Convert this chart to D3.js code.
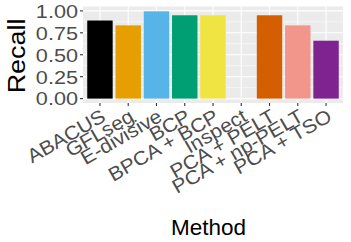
<!DOCTYPE html>
<html><head><meta charset="utf-8">
<script src="https://cdn.jsdelivr.net/npm/d3@7"></script>
<style>body{margin:0;background:#fff}text{font-family:"Liberation Sans",Arial,sans-serif}</style>
</head><body><svg id="c" width="351" height="242"></svg>
<script>
const methods = ["ABACUS","GFLseg","E-divisive","BCP","BPCA + BCP","Inspect","PCA + PELT","PCA + np-PELT","PCA + TSO"];
const recall = [0.89, 0.835, 0.995, 0.95, 0.95, 0, 0.95, 0.835, 0.66];
const colors = ["#000000","#E69F00","#56B4E9","#009E73","#F0E442","#0072B2","#D55E00","#F2968B","#7F2391"];
const yTicks = [0, 0.25, 0.5, 0.75, 1];
const yMinor = [0.125, 0.375, 0.625, 0.875];

const svg = d3.select("#c");
const L = 83, R = 343, T = 6.5, B = 103;
const y = d3.scaleLinear().domain([-0.05, 1.05]).range([B, T]);
// ggplot discrete expansion 0.6 units each side
const x = d3.scalePoint().domain(methods).range([L, R]).padding(0.6 * 2 / 2 + 0.1);
const step = (R - L) / 9.2;
const xc = d => L + 0.6 * step + methods.indexOf(d) * step;
const bw = 0.9 * step;

svg.append("rect").attr("x", L).attr("y", T).attr("width", R - L).attr("height", B - T).attr("fill", "#EBEBEB");
svg.selectAll(".minor").data(yMinor).join("line")
  .attr("x1", L).attr("x2", R).attr("y1", d => y(d)).attr("y2", d => y(d))
  .attr("stroke", "#fff").attr("stroke-width", 0.55);
svg.selectAll(".major").data(yTicks).join("line")
  .attr("x1", L).attr("x2", R).attr("y1", d => y(d)).attr("y2", d => y(d))
  .attr("stroke", "#fff").attr("stroke-width", 1.1);
svg.selectAll(".vmaj").data(methods).join("line")
  .attr("x1", d => xc(d)).attr("x2", d => xc(d)).attr("y1", T).attr("y2", B)
  .attr("stroke", "#fff").attr("stroke-width", 1.1);

svg.selectAll(".bar").data(methods).join("rect")
  .attr("x", d => xc(d) - bw / 2).attr("width", bw)
  .attr("y", (d, i) => y(recall[i])).attr("height", (d, i) => y(0) - y(recall[i]))
  .attr("fill", (d, i) => colors[i]);

// y axis
const yAx = svg.append("g");
yTicks.forEach(t => {
  yAx.append("line").attr("x1", L - 3).attr("x2", L).attr("y1", y(t)).attr("y2", y(t)).attr("stroke", "#333").attr("stroke-width", 1.1);
  yAx.append("text").attr("transform", `translate(${L - 5},${y(t)}) scale(1.14,1)`).attr("dy", "0.36em").attr("text-anchor", "end")
    .attr("font-size", 19).attr("fill", "#4D4D4D").text(d3.format(".2f")(t));
});
// x axis
methods.forEach(m => {
  svg.append("line").attr("x1", xc(m)).attr("x2", xc(m)).attr("y1", B).attr("y2", B + 3).attr("stroke", "#333").attr("stroke-width", 1.1);
  svg.append("text").attr("transform", `translate(${xc(m)},${B + 5}) rotate(-30) scale(1.08,1)`)
    .attr("text-anchor", "end").attr("dy", "0.72em").attr("font-size", 19.5).attr("fill", "#4D4D4D").text(m);
});

svg.append("text").attr("transform", `translate(24.5,56) rotate(-90) scale(1.17,1)`).attr("text-anchor", "middle")
  .attr("font-size", 23).attr("fill", "#000").text("Recall");
svg.append("text").attr("x", 208.5).attr("y", 235).attr("text-anchor", "middle")
  .attr("font-size", 22.5).attr("fill", "#000").text("Method");
</script></body></html>
